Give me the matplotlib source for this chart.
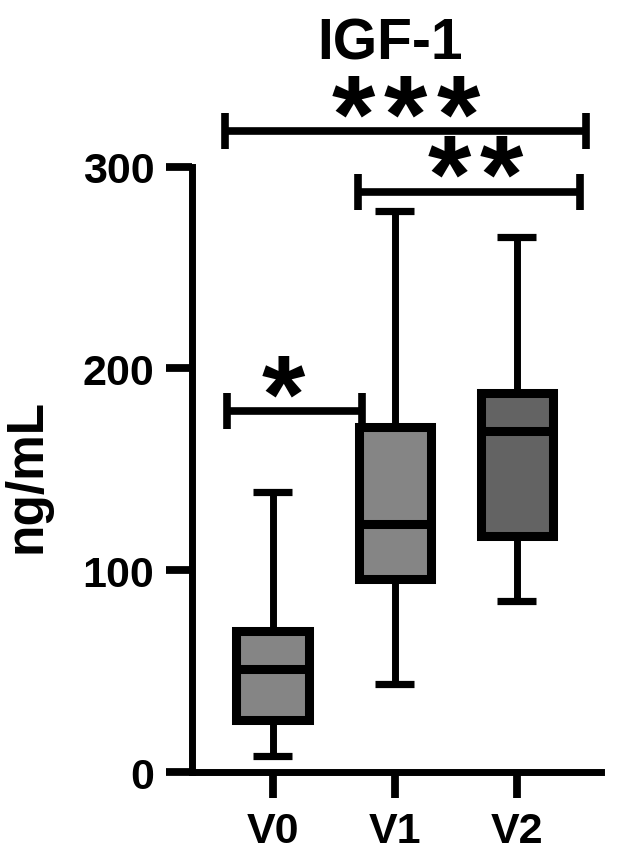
import matplotlib
matplotlib.use('Agg')
import matplotlib.pyplot as plt

# данные
groups = ['V0', 'V1', 'V2']
whis_lo = [8, 44, 85]
q1 = [26, 96, 117]
median = [51, 123, 169]
q3 = [70, 171, 188]
whis_hi = [139, 278, 265]
box_colors = ['#858585', '#858585', '#636363']

# скобки значимости: начало, конец, высота линии, подпись и её центр
sig_x0 = [-0.37, 0.70, -0.39]
sig_x1 = [0.73, 2.52, 2.57]
sig_y = [179, 287.5, 317.5]
sig_text = ['*', '**', '***']
sig_text_x = [0.086, 1.66, 1.09]
yticks = [0, 100, 200, 300]

plt.rcParams.update({
    'font.family': 'Liberation Sans',
    'font.weight': 'bold',
})

fig = plt.figure(figsize=(6.21, 8.62), dpi=100)
ax = fig.add_axes([0.309, 0.1027, 0.659, 0.7967])

stats = []
for i, g in enumerate(groups):
    stats.append({'label': g, 'whislo': whis_lo[i], 'q1': q1[i], 'med': median[i],
                  'q3': q3[i], 'whishi': whis_hi[i], 'fliers': []})

bp = ax.bxp(stats, positions=range(len(groups)), widths=0.59, capwidths=0.32,
            patch_artist=True, showfliers=False,
            boxprops=dict(linewidth=6.5, edgecolor='black'),
            medianprops=dict(linewidth=6.5, color='black', solid_capstyle='butt'),
            whiskerprops=dict(linewidth=5, color='black'),
            capprops=dict(linewidth=5.2, color='black', solid_capstyle='butt'))
for patch, c in zip(bp['boxes'], box_colors):
    patch.set_facecolor(c)
    patch.set_joinstyle('miter')

# скобки значимости
star_step = 0.43
for x0, x1, y, t, xc in zip(sig_x0, sig_x1, sig_y, sig_text, sig_text_x):
    ax.plot([x0, x1], [y, y], color='black', lw=5.5, clip_on=False, solid_capstyle='butt')
    ax.plot([x0, x0], [y - 9, y + 9], color='black', lw=5.5, clip_on=False, solid_capstyle='butt')
    ax.plot([x1, x1], [y - 9, y + 9], color='black', lw=5.5, clip_on=False, solid_capstyle='butt')
    n = len(t)
    for k in range(n):
        ax.text(xc + (k - (n - 1) / 2) * star_step, y - 10, '*', ha='center',
                va='baseline', fontsize=80, fontweight='bold', clip_on=False)

ax.set_xlim(-0.66, 2.69)
ax.set_ylim(0, 340)
ax.spines['left'].set_bounds(0, 300)
ax.spines['top'].set_visible(False)
ax.spines['right'].set_visible(False)
for s in ['left', 'bottom']:
    ax.spines[s].set_linewidth(5)
ax.set_yticks(yticks)
ax.set_xticks(range(len(groups)))
ax.set_xticklabels(groups)
ax.tick_params(axis='both', direction='out', length=19, width=5.6, labelsize=31, pad=8)
ax.tick_params(axis='x', pad=9)
ax.set_ylabel('ng/mL', fontsize=37, fontweight='bold')
ax.yaxis.set_label_coords(-0.342, 0.433)

fig.text(0.628, 0.948, 'IGF-1', ha='center', va='center', fontsize=41, fontweight='bold')

plt.savefig('out.png', dpi=100)
